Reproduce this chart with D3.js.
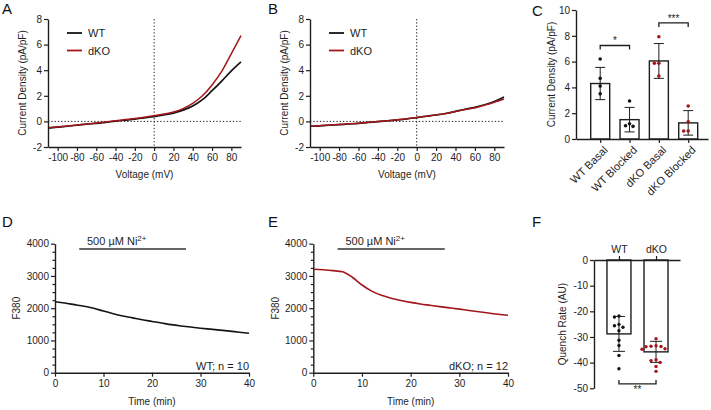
<!DOCTYPE html>
<html><head><meta charset="utf-8">
<script src="https://cdn.jsdelivr.net/npm/d3@7"></script>
<style>
body{margin:0;background:#fff}
svg{display:block;font-family:"Liberation Sans",Arial,sans-serif}
</style></head><body>
<svg id="c" width="711" height="410"></svg>
<script>
// ---------- DATA ----------
const voltage = [-110,-100,-90,-80,-70,-60,-50,-40,-30,-20,-10,0,10,20,30,40,50,60,70,80,90];
const ivA_WT  = [-0.52,-0.45,-0.38,-0.30,-0.22,-0.15,-0.07,0.02,0.10,0.18,0.28,0.38,0.50,0.65,0.88,1.20,1.70,2.40,3.15,3.95,4.65];
const ivA_dKO = [-0.50,-0.43,-0.36,-0.28,-0.20,-0.12,-0.04,0.05,0.14,0.23,0.33,0.44,0.57,0.74,1.00,1.40,2.00,2.85,3.90,5.30,6.70];
const ivB_WT  = [-0.38,-0.35,-0.30,-0.25,-0.20,-0.15,-0.08,-0.02,0.05,0.12,0.20,0.30,0.40,0.50,0.62,0.78,0.95,1.10,1.30,1.55,1.90];
const ivB_dKO = [-0.37,-0.34,-0.29,-0.24,-0.19,-0.14,-0.07,-0.01,0.06,0.13,0.21,0.31,0.41,0.51,0.62,0.77,0.93,1.07,1.27,1.50,1.75];
const ivTicksX = [-100,-80,-60,-40,-20,0,20,40,60,80];
const ivTicksY = [-2,0,2,4,6,8];
const ivSeries = ["WT","dKO"];

const cCategories = ["WT Basal","WT Blocked","dKO Basal","dKO Blocked"];
const cMeans = [4.3,1.5,6.05,1.25];
const cSD = [1.25,0.95,1.35,0.95];
const cPoints = [[6.2,4.7,4.1,3.5],[2.95,1.18,1.03,0.98],[7.93,5.87,5.87,4.88],[2.56,1.34,0.62,0.62]];
const cTicksY = [0,2,4,6,8,10];
const cSig = [{a:0,b:1,y:7.25,label:"*"},{a:2,b:3,y:9.0,label:"***"}];

const time = [0,2,4,6,8,10,12,14,16,18,20,22,24,26,28,30,32,34,36,38,40];
const f380_WT  = [2200,2160,2110,2060,2000,1910,1830,1760,1700,1640,1590,1540,1490,1450,1415,1380,1350,1320,1290,1255,1225];
const f380_dKO = [3210,3190,3165,3130,2960,2720,2530,2400,2310,2240,2180,2130,2090,2050,2010,1970,1930,1890,1850,1810,1780];
const timeTicks = [0,10,20,30,40];
const f380Ticks = [0,1000,2000,3000,4000];
const f380Minor = [250,500,750,1250,1500,1750,2250,2500,2750,3250,3500,3750];
const niRange = [5,27];

const fGroups = ["WT","dKO"];
const fMeans = [-28.8,-35.8];
const fSD = [6.8,4.1];
const fPoints = [[-22.2,-21.8,-25.6,-25.1,-26.2,-27.6,-31.3,-33.3,-37.2,-42.4],
                 [-30.7,-33.4,-33.6,-33.8,-33.7,-34.6,-34.8,-38.9,-39.2,-39.9,-41.5,-43.4]];
const fTicksY = [0,-10,-20,-30,-40,-50];

// ---------- STYLE ----------
const BLACK = "#141414", RED = "#a3171c", AX = "#1e1e1e";
const FONT = "'Liberation Sans', Arial, sans-serif";
const svg = d3.select("#c");

function styleAxis(g){
  g.attr("font-family", FONT).attr("font-size", 10);
  g.select(".domain").attr("stroke", AX).attr("stroke-width", 1.4);
  g.selectAll(".tick line").attr("stroke", AX).attr("stroke-width", 1.2);
  g.selectAll(".tick text").attr("fill", AX);
  return g;
}
const fmt = d => String(d);
function text(x, y, s, opts={}){
  const t = svg.append("text").attr("x", x).attr("y", y).text(s)
    .attr("font-family", FONT).attr("font-size", opts.size||10).attr("fill", opts.fill||AX)
    .attr("text-anchor", opts.anchor||"middle");
  if (opts.rotate) t.attr("transform", `rotate(-90,${x},${y})`).attr("dy","0.35em");
  return t;
}
function panelLabel(x, y, s){ text(x, y, s, {size:15, anchor:"start", fill:"#111"}); }

// ---------- IV panels (A, B) ----------
function ivPanel(x0, x1, seriesWT, seriesKO, label, lx){
  const x = d3.scaleLinear().domain([-110,90]).range([x0,x1]);
  const y = d3.scaleLinear().domain([-2,8]).range([147,19]);
  const g = svg.append("g");
  g.append("line").attr("x1",x(0)).attr("x2",x(0)).attr("y1",y(8)).attr("y2",y(-2))
    .attr("stroke",AX).attr("stroke-width",1).attr("stroke-dasharray","1.3,2");
  g.append("line").attr("x1",x0).attr("x2",x1).attr("y1",y(0)).attr("y2",y(0))
    .attr("stroke",AX).attr("stroke-width",1).attr("stroke-dasharray","1.3,2");
  const line = d3.line().x((d,i)=>x(voltage[i])).y(d=>y(d)).curve(d3.curveMonotoneX);
  g.append("path").datum(seriesWT).attr("d",line).attr("fill","none").attr("stroke",BLACK).attr("stroke-width",1.7);
  g.append("path").datum(seriesKO).attr("d",line).attr("fill","none").attr("stroke",RED).attr("stroke-width",1.5);
  styleAxis(g.append("g").attr("transform",`translate(0,${y(-2)})`)
    .call(d3.axisBottom(x).tickValues(ivTicksX).tickFormat(fmt).tickSize(4).tickSizeOuter(0).tickPadding(3)));
  styleAxis(g.append("g").attr("transform",`translate(${x0},0)`)
    .call(d3.axisLeft(y).tickValues(ivTicksY).tickFormat(fmt).tickSize(4).tickSizeOuter(0).tickPadding(2)));
  text((x0+x1)/2, 178, "Voltage (mV)");
  text(x0-26, (y(8)+y(-2))/2, "Current Density (pA/pF)", {rotate:true});
  const colors = [BLACK, RED];
  ivSeries.forEach((s,i)=>{
    const ly = 33 + i*17.5;
    g.append("line").attr("x1",x0+19).attr("x2",x0+34).attr("y1",ly).attr("y2",ly)
      .attr("stroke",colors[i]).attr("stroke-width",1.8);
    text(x0+40, ly+4, s, {size:11, anchor:"start"});
  });
  panelLabel(lx, 14, label);
}
ivPanel(48, 241, ivA_WT, ivA_dKO, "A", 2);
ivPanel(310, 504, ivB_WT, ivB_dKO, "B", 268);

// beeswarm dodge helper (horizontal offsets from pixel collisions)
function dodge(ys, minDist){
  const order = ys.map((v,i)=>i).sort((a,b)=>ys[a]-ys[b]);
  const placed = [], out = new Array(ys.length).fill(0);
  order.forEach(i=>{
    for (let k=0;k<60;k++){
      const off = (k%2===0?1:-1)*Math.ceil(k/2)*0.5;
      const ok = placed.every(p => Math.hypot(p.x-off, p.y-ys[i]) >= minDist);
      if (ok){ out[i]=off; placed.push({x:off,y:ys[i]}); break; }
    }
  });
  return out;
}

// ---------- Panel C ----------
(function(){
  const x = d3.scalePoint().domain(cCategories).range([576,708]).padding(0.75).align(0.55);
  const y = d3.scaleLinear().domain([0,10]).range([139,10]);
  const g = svg.append("g");
  const bw = 19, cap = 5;
  cCategories.forEach((c,i)=>{
    const cx = x(c), col = i<2 ? BLACK : RED;
    g.append("rect").attr("x",cx-bw/2).attr("width",bw).attr("y",y(cMeans[i])).attr("height",y(0)-y(cMeans[i]))
      .attr("fill","#fff").attr("stroke",AX).attr("stroke-width",1.4);
    const lo = y(cMeans[i]-cSD[i]), hi = y(cMeans[i]+cSD[i]);
    g.append("line").attr("x1",cx).attr("x2",cx).attr("y1",lo).attr("y2",hi).attr("stroke",AX).attr("stroke-width",1);
    [lo,hi].forEach(v=>g.append("line").attr("x1",cx-cap).attr("x2",cx+cap).attr("y1",v).attr("y2",v).attr("stroke",AX).attr("stroke-width",1));
    const ys = cPoints[i].map(v=>y(v));
    const offs = dodge(ys, 4.2);
    ys.forEach((py,j)=>g.append("circle").attr("cx",cx+offs[j]).attr("cy",py).attr("r",1.8).attr("fill",col));
  });
  styleAxis(g.append("g").attr("transform",`translate(0,${y(0)})`)
    .call(d3.axisBottom(x).tickSize(4).tickSizeOuter(0)))
    .selectAll(".tick text").attr("x",0).attr("y",0).attr("dy","0.35em").attr("font-size",11)
    .attr("transform","translate(5,9) rotate(-45)").attr("text-anchor","end");
  styleAxis(g.append("g").attr("transform",`translate(576,0)`)
    .call(d3.axisLeft(y).tickValues(cTicksY).tickFormat(fmt).tickSize(4).tickSizeOuter(0).tickPadding(2)));
  cSig.forEach(s=>{
    const xa = x(cCategories[s.a]), xb = x(cCategories[s.b]), yy = y(s.y);
    g.append("path").attr("d",`M${xa},${yy+4}V${yy}H${xb}V${yy+4}`).attr("fill","none").attr("stroke",AX).attr("stroke-width",1.3);
    text((xa+xb)/2, yy-1, s.label, {size:10});
  });
  text(551, (y(0)+y(10))/2, "Current Density (pA/pF)", {rotate:true});
  panelLabel(532, 16, "C");
})();

// ---------- Time course panels (D, E) ----------
function tcPanel(x0, x1, series, col, label, lx, note){
  const x = d3.scaleLinear().domain([0,40]).range([x0,x1]);
  const y = d3.scaleLinear().domain([0,4000]).range([372.7,243.7]);
  const g = svg.append("g");
  const line = d3.line().x((d,i)=>x(time[i])).y(d=>y(d)).curve(d3.curveMonotoneX);
  g.append("path").datum(series).attr("d",line).attr("fill","none").attr("stroke",col).attr("stroke-width",1.6);
  styleAxis(g.append("g").attr("transform",`translate(0,${y(0)})`)
    .call(d3.axisBottom(x).tickValues(timeTicks).tickFormat(fmt).tickSize(4).tickSizeOuter(0).tickPadding(3)));
  styleAxis(g.append("g").attr("transform",`translate(${x0},0)`)
    .call(d3.axisLeft(y).tickValues(f380Ticks).tickFormat(fmt).tickSize(4).tickSizeOuter(0).tickPadding(2)));
  styleAxis(g.append("g").attr("transform",`translate(${x0},0)`)
    .call(d3.axisLeft(y).tickValues(f380Minor).tickFormat("").tickSize(2.5).tickSizeOuter(0)))
    .select(".domain").remove();
  g.append("line").attr("x1",x(niRange[0])).attr("x2",x(niRange[1])).attr("y1",249).attr("y2",249)
    .attr("stroke","#333").attr("stroke-width",1.6);
  const t = text(x(6.6), 245, "500 µM Ni", {size:11, anchor:"start"});
  t.append("tspan").attr("dy",-4).attr("font-size",8).text("2+");
  text(x1, 369.5, note, {size:11, anchor:"end"});
  text((x0+x1)/2, 405, "Time (min)");
  text(x0-38, (y(0)+y(4000))/2, "F380", {rotate:true});
  panelLabel(lx, 227, label);
}
tcPanel(55, 249, f380_WT, BLACK, "D", 2, "WT; n = 10");
tcPanel(313.3, 508, f380_dKO, RED, "E", 268, "dKO; n = 12");

// ---------- Panel F ----------
(function(){
  const x = d3.scalePoint().domain(fGroups).range([594,680]).padding(0.66).align(0.51);
  const y = d3.scaleLinear().domain([-50,0]).range([388.3,260]);
  const g = svg.append("g");
  const bw = 24, cap = 6;
  fGroups.forEach((c,i)=>{
    const cx = x(c), col = i===0 ? BLACK : RED;
    g.append("rect").attr("x",cx-bw/2).attr("width",bw).attr("y",y(0)).attr("height",y(fMeans[i])-y(0))
      .attr("fill","#fff").attr("stroke",AX).attr("stroke-width",1.4);
    const lo = y(fMeans[i]-fSD[i]), hi = y(fMeans[i]+fSD[i]);
    g.append("line").attr("x1",cx).attr("x2",cx).attr("y1",lo).attr("y2",hi).attr("stroke",AX).attr("stroke-width",1);
    [lo,hi].forEach(v=>g.append("line").attr("x1",cx-cap).attr("x2",cx+cap).attr("y1",v).attr("y2",v).attr("stroke",AX).attr("stroke-width",1));
    const ys = fPoints[i].map(v=>y(v));
    const offs = dodge(ys, 4.6);
    ys.forEach((py,j)=>g.append("circle").attr("cx",cx+offs[j]).attr("cy",py).attr("r",1.7).attr("fill",col));
  });
  styleAxis(g.append("g").attr("transform",`translate(0,${y(0)})`)
    .call(d3.axisTop(x).tickSize(4).tickSizeOuter(0).tickPadding(3)))
    .selectAll(".tick text").attr("font-size",10.5);
  styleAxis(g.append("g").attr("transform",`translate(594,0)`)
    .call(d3.axisLeft(y).tickValues(fTicksY).tickFormat(fmt).tickSize(4).tickSizeOuter(0).tickPadding(2)));
  const xa = x(fGroups[0]), xb = x(fGroups[1]), yy = y(-48.3);
  g.append("path").attr("d",`M${xa},${yy-4}V${yy}H${xb}V${yy-4}`).attr("fill","none").attr("stroke",AX).attr("stroke-width",1.3);
  text((xa+xb)/2, yy+9, "**", {size:10});
  text(563, (y(0)+y(-50))/2, "Quench Rate (AU)", {rotate:true});
  panelLabel(532, 227, "F");
})();
</script>
</body></html>
